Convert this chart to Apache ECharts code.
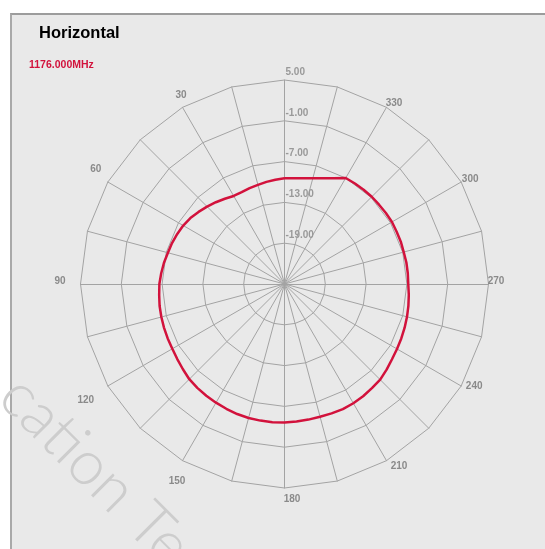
<!DOCTYPE html>
<html>
<head>
<meta charset="utf-8">
<script src="https://cdn.jsdelivr.net/npm/echarts@6/dist/echarts.min.js"></script>
<style>
  body { margin: 0; background: #fff; }
  #frame {
    position: absolute; left: 10px; top: 13px; width: 545px; height: 549px;
    background: #e9e9e9; border-top: 2px solid #9c9c9c; border-left: 2px solid #a9a9a9;
  }
  #chart { position: absolute; left: 0; top: 0; width: 545px; height: 549px; }
</style>
</head>
<body>
<div id="frame"></div>
<div id="chart"></div>
<script>
// angle in degrees, counter-clockwise from top
const angles = [
  0, 5, 10, 15, 20, 25, 30, 35, 40, 45, 50, 55, 60, 65, 70, 75, 80, 85,
  90, 95, 100, 105, 110, 115, 120, 125, 130, 135, 140, 145, 150, 155, 160, 165, 170, 175,
  180, 185, 190, 195, 200, 205, 210, 215, 220, 225, 230, 235, 240, 245, 250, 255, 260, 265,
  270, 275, 280, 285, 290, 295, 300, 305, 310, 315, 320, 325, 330, 335, 340, 345, 350, 355, 360
];
// gain in dB
const gainDb = [
  -9.46, -9.6, -9.75, -9.9, -10.0, -10.1, -10.05, -9.7, -9.3, -8.9, -8.5, -8.1, -7.8, -7.6, -7.4, -7.25, -7.0, -6.8,
  -6.6, -6.5, -6.35, -6.25, -6.15, -6.05, -5.95, -5.75, -5.5, -5.2, -5.05, -4.95, -4.85, -4.75, -4.65, -4.6, -4.6, -4.6,
  -4.65, -4.7, -4.75, -4.8, -4.75, -4.7, -4.75, -4.85, -5.0, -5.1, -5.4, -5.7, -5.9, -6.05, -6.2, -6.35, -6.5, -6.65,
  -6.8, -6.8, -6.8, -6.85, -6.8, -6.8, -6.75, -6.8, -6.85, -6.85, -6.9, -6.95, -7.0, -7.83, -8.44, -8.89, -9.2, -9.38, -9.46
];
// spoke labels every 15 degrees (blank where the picture shows none)
const spokeLabels = [
  '', '', '30', '', '60', '', '90', '', '120', '', '150', '', '180',
  '', '210', '', '240', '', '270', '', '300', '', '330', ''
];
const dbMin = -25;   // centre of the plot
const dbMax = 5;     // outer ring
const dbStep = 6;    // ring spacing

const CENTER = [284.5, 284];
const RADIUS = 204;
const gridColor = '#a3a3a3';

// where each spoke label sits relative to the end of its spoke (px)
const labelShift = {
  '30': [-1.5, -12], '60': [-12, -13], '90': [-20.5, -3], '120': [-22, 14],
  '150': [-5.5, 21], '180': [7.5, 11], '210': [12.5, 6], '240': [13, 0],
  '270': [7.5, -3], '300': [9, -3], '330': [7.5, -4]
};
const labelFont = { color: '#8a8a8a', fontFamily: 'Arial', fontSize: 10, fontWeight: 'bold' };
const rich = {};
Object.keys(labelShift).forEach(k => {
  const [dx, dy] = labelShift[k];
  rich['a' + k] = Object.assign({
    padding: [Math.max(dy, 0) * 2, Math.max(-dx, 0) * 2, Math.max(-dy, 0) * 2, Math.max(dx, 0) * 2]
  }, labelFont);
});

const chart = echarts.init(document.getElementById('chart'));

const option = {
  backgroundColor: 'transparent',
  animation: false,
  title: [
    {
      text: 'Horizontal', left: 39, top: 25, padding: 0,
      textStyle: { fontFamily: 'Arial', fontSize: 16.5, fontWeight: 'bold', color: '#000' }
    },
    {
      text: '1176.000MHz', left: 29, top: 60, padding: 0,
      textStyle: { fontFamily: 'Arial', fontSize: 10.5, fontWeight: 'bold', color: '#d2123c' }
    }
  ],
  // faint watermark in the lower-left corner
  graphic: [{
    type: 'text', x: 10, y: 386, rotation: -Math.PI / 4, z: -1,
    style: {
      text: 'cation Test', fontFamily: 'Lato', fontWeight: 300, fontSize: 62,
      fill: '#cdcdcd', textVerticalAlign: 'middle'
    }
  }],
  radar: {
    center: CENTER,
    radius: RADIUS,
    startAngle: 90,
    shape: 'polygon',
    splitNumber: (dbMax - dbMin) / dbStep,
    indicator: spokeLabels.map(name => ({ name: name, min: 0, max: dbMax - dbMin })),
    axisName: Object.assign({
      align: 'center', verticalAlign: 'middle', rich: rich,
      formatter: name => name ? '{a' + name + '|' + name + '}' : ''
    }, labelFont),
    nameGap: 0,
    axisLine: { lineStyle: { color: gridColor, width: 1 } },
    splitLine: { lineStyle: { color: gridColor, width: 1 } },
    splitArea: { show: false },
    axisTick: { show: false },
    axisLabel: { show: false }
  },
  polar: { center: CENTER, radius: RADIUS },
  angleAxis: {
    type: 'value', min: 0, max: 360, startAngle: 90, clockwise: false, show: false
  },
  radiusAxis: {
    type: 'value', min: 0, max: dbMax - dbMin, interval: dbStep,
    axisLine: { show: false }, axisTick: { show: false }, splitLine: { show: false },
    axisLabel: {
      margin: -1, align: 'left', verticalAlign: 'bottom', padding: [0, 0, 3, 0],
      color: '#999', fontFamily: 'Arial', fontSize: 10, fontWeight: 'bold',
      formatter: v => v === 0 ? '' : (v + dbMin).toFixed(2)
    }
  },
  series: [{
    type: 'line',
    coordinateSystem: 'polar',
    data: angles.map((a, i) => [gainDb[i] - dbMin, a]),
    showSymbol: false,
    lineStyle: { color: '#d2123c', width: 2.5 },
    z: 5
  }]
};
chart.setOption(option);
</script>
</body>
</html>
